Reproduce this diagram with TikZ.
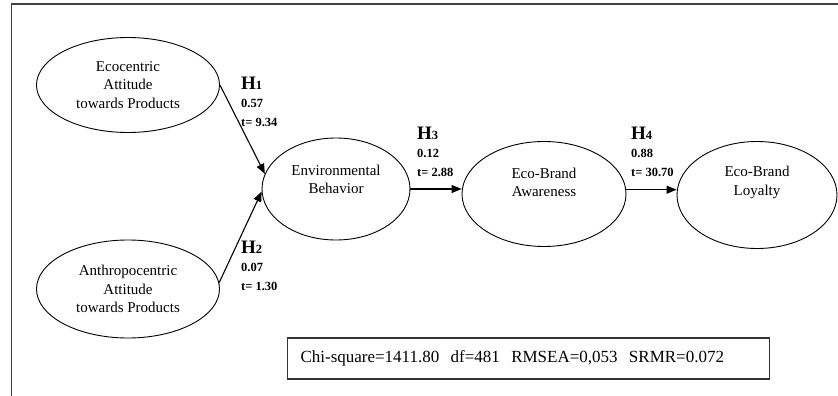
\documentclass[tikz,border=0pt]{standalone}
\usepackage{fontspec}
\setmainfont{Liberation Serif}
\usetikzlibrary{shapes.geometric,arrows.meta}

\newcommand{\hyp}[1]{{\fontsize{19}{19}\selectfont H}{\fontsize{12.5}{12.5}\selectfont #1}}

\begin{document}
\begin{tikzpicture}[x=1pt,y=-1pt]
    % Define the styles for the constructs, estimates and arrows
    \tikzstyle{construct}=[ellipse, draw=black, line width=0.9pt, align=center, inner sep=0pt, font=\fontsize{15}{18.5}\selectfont]
    \tikzstyle{estimate}=[anchor=north west, align=left, inner sep=0pt, font=\bfseries\fontsize{12.5}{18.5}\selectfont]
    \tikzstyle{link}=[line width=1.1pt, -{Triangle[length=10pt,width=8pt]}]

    \useasboundingbox (0,0) rectangle (838,396);

    % Draw the frame
    \draw[line width=1.6pt, black!75] (11.5,410) |- (850,4);

    % Draw the constructs
    \node[construct, minimum width=183pt, minimum height=95pt] (eco) at (128,85) {Ecocentric\\Attitude\\towards Products};
    \node[construct, minimum width=183pt, minimum height=98pt] (anthro) at (128,289) {Anthropocentric\\Attitude\\towards Products};
    \node[construct, minimum width=148pt, minimum height=102pt, text depth=19pt] (behavior) at (336,189) {Environmental\\Behavior};
    \node[construct, minimum width=164pt, minimum height=105pt, text depth=23pt] (awareness) at (544,194) {Eco-Brand\\Awareness};
    \node[construct, minimum width=160pt, minimum height=107pt, text depth=28pt] (loyalty) at (757,195) {Eco-Brand\\Loyalty};

    % Draw the arrows between the constructs
    \draw[link] (eco.east) -- (behavior.168);
    \draw[link] (anthro.4) -- (behavior.182);
    \draw[link] (behavior.east) -- (behavior.east -| awareness.west);
    \draw[link] (awareness.3) -- (awareness.3 -| loyalty.west);

    % Draw the path estimates
    \node[estimate] (h1) at (241,76.5) {\hyp{1}\\0.57\\t= 9.34};
    \node[estimate] (h2) at (241,240.5) {\hyp{2}\\0.07\\t= 1.30};
    \node[estimate] (h3) at (417,126.5) {\hyp{3}\\0.12\\t= 2.88};
    \node[estimate] (h4) at (631,126.5) {\hyp{4}\\0.88\\t= 30.70};

    % Draw the model fit box
    \node[draw=black!80, line width=1.1pt, anchor=west, inner xsep=13pt, text width=456pt, align=left, minimum height=41pt, font=\fontsize{17}{20}\selectfont] (fit) at (287,358.5) {Chi-square=1411.80\ \ df=481\ \ RMSEA=0,053\ \ SRMR=0.072};
\end{tikzpicture}
\end{document}
